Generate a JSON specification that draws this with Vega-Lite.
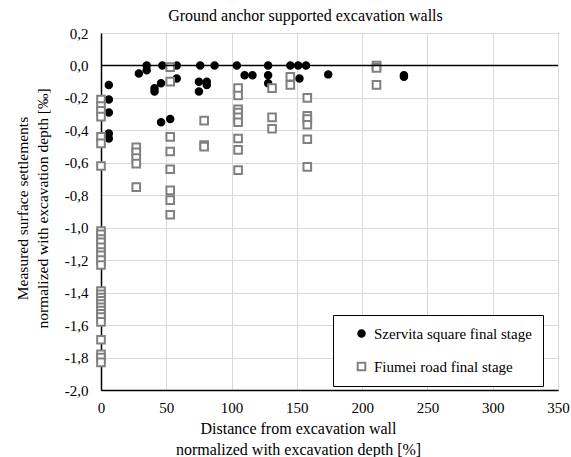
{
  "$schema": "https://vega.github.io/schema/vega-lite/v6.json",
  "width": 457,
  "height": 357,
  "autosize": {"type": "none"},
  "padding": {"left": 101, "top": 33, "right": 13, "bottom": 67},
  "config": {
    "locale": {"number": {"decimal": ",", "thousands": " ", "grouping": [3], "currency": ["", ""], "minus": "-"}},
    "font": "Liberation Serif",
    "axis": {"labelFont": "Liberation Serif", "titleFont": "Liberation Serif"},
    "legend": {"labelFont": "Liberation Serif", "titleFont": "Liberation Serif"},
    "view": {"stroke": "#333333", "strokeWidth": 1}
  },
  "title": {
    "text": "Ground anchor supported excavation walls",
    "font": "Liberation Serif",
    "fontSize": 16,
    "fontWeight": "normal",
    "color": "#000000",
    "anchor": "middle",
    "dx": -24,
    "offset": 2
  },
  "datasets": {
    "pts": [
      {"series": "Szervita square final stage", "x": 6, "y": -0.12},
      {"series": "Szervita square final stage", "x": 6, "y": -0.21},
      {"series": "Szervita square final stage", "x": 6, "y": -0.29},
      {"series": "Szervita square final stage", "x": 6, "y": -0.42},
      {"series": "Szervita square final stage", "x": 6, "y": -0.45},
      {"series": "Szervita square final stage", "x": 29, "y": -0.05},
      {"series": "Szervita square final stage", "x": 35, "y": 0.0},
      {"series": "Szervita square final stage", "x": 35, "y": -0.03},
      {"series": "Szervita square final stage", "x": 41, "y": -0.14},
      {"series": "Szervita square final stage", "x": 41, "y": -0.16},
      {"series": "Szervita square final stage", "x": 46, "y": -0.11},
      {"series": "Szervita square final stage", "x": 47, "y": 0.0},
      {"series": "Szervita square final stage", "x": 46, "y": -0.35},
      {"series": "Szervita square final stage", "x": 53, "y": -0.33},
      {"series": "Szervita square final stage", "x": 58, "y": 0.0},
      {"series": "Szervita square final stage", "x": 58, "y": -0.08},
      {"series": "Szervita square final stage", "x": 76, "y": 0.0},
      {"series": "Szervita square final stage", "x": 75, "y": -0.1},
      {"series": "Szervita square final stage", "x": 75, "y": -0.16},
      {"series": "Szervita square final stage", "x": 81, "y": -0.1},
      {"series": "Szervita square final stage", "x": 81, "y": -0.12},
      {"series": "Szervita square final stage", "x": 87, "y": 0.0},
      {"series": "Szervita square final stage", "x": 104, "y": 0.0},
      {"series": "Szervita square final stage", "x": 110, "y": -0.06},
      {"series": "Szervita square final stage", "x": 116, "y": -0.06},
      {"series": "Szervita square final stage", "x": 128, "y": 0.0},
      {"series": "Szervita square final stage", "x": 128, "y": -0.06},
      {"series": "Szervita square final stage", "x": 128, "y": -0.11},
      {"series": "Szervita square final stage", "x": 145, "y": 0.0},
      {"series": "Szervita square final stage", "x": 151, "y": 0.0},
      {"series": "Szervita square final stage", "x": 157, "y": 0.0},
      {"series": "Szervita square final stage", "x": 152, "y": -0.08},
      {"series": "Szervita square final stage", "x": 174, "y": -0.055},
      {"series": "Szervita square final stage", "x": 232, "y": -0.06},
      {"series": "Szervita square final stage", "x": 232, "y": -0.07},
      {"series": "Fiumei road final stage", "x": 0, "y": -0.21},
      {"series": "Fiumei road final stage", "x": 0, "y": -0.25},
      {"series": "Fiumei road final stage", "x": 0, "y": -0.28},
      {"series": "Fiumei road final stage", "x": 0, "y": -0.315},
      {"series": "Fiumei road final stage", "x": 0, "y": -0.44},
      {"series": "Fiumei road final stage", "x": 0, "y": -0.48},
      {"series": "Fiumei road final stage", "x": 0, "y": -0.62},
      {"series": "Fiumei road final stage", "x": 0, "y": -1.02},
      {"series": "Fiumei road final stage", "x": 0, "y": -1.04},
      {"series": "Fiumei road final stage", "x": 0, "y": -1.07},
      {"series": "Fiumei road final stage", "x": 0, "y": -1.09},
      {"series": "Fiumei road final stage", "x": 0, "y": -1.12},
      {"series": "Fiumei road final stage", "x": 0, "y": -1.15},
      {"series": "Fiumei road final stage", "x": 0, "y": -1.17},
      {"series": "Fiumei road final stage", "x": 0, "y": -1.2},
      {"series": "Fiumei road final stage", "x": 0, "y": -1.23},
      {"series": "Fiumei road final stage", "x": 0, "y": -1.39},
      {"series": "Fiumei road final stage", "x": 0, "y": -1.41},
      {"series": "Fiumei road final stage", "x": 0, "y": -1.43},
      {"series": "Fiumei road final stage", "x": 0, "y": -1.45},
      {"series": "Fiumei road final stage", "x": 0, "y": -1.47},
      {"series": "Fiumei road final stage", "x": 0, "y": -1.49},
      {"series": "Fiumei road final stage", "x": 0, "y": -1.51},
      {"series": "Fiumei road final stage", "x": 0, "y": -1.53},
      {"series": "Fiumei road final stage", "x": 0, "y": -1.55},
      {"series": "Fiumei road final stage", "x": 0, "y": -1.58},
      {"series": "Fiumei road final stage", "x": 0, "y": -1.69},
      {"series": "Fiumei road final stage", "x": 0, "y": -1.78},
      {"series": "Fiumei road final stage", "x": 0, "y": -1.8},
      {"series": "Fiumei road final stage", "x": 0, "y": -1.83},
      {"series": "Fiumei road final stage", "x": 27, "y": -0.505},
      {"series": "Fiumei road final stage", "x": 27, "y": -0.535},
      {"series": "Fiumei road final stage", "x": 27, "y": -0.57},
      {"series": "Fiumei road final stage", "x": 27, "y": -0.605},
      {"series": "Fiumei road final stage", "x": 27, "y": -0.75},
      {"series": "Fiumei road final stage", "x": 53, "y": -0.01},
      {"series": "Fiumei road final stage", "x": 53, "y": -0.1},
      {"series": "Fiumei road final stage", "x": 53, "y": -0.44},
      {"series": "Fiumei road final stage", "x": 53, "y": -0.53},
      {"series": "Fiumei road final stage", "x": 53, "y": -0.64},
      {"series": "Fiumei road final stage", "x": 53, "y": -0.77},
      {"series": "Fiumei road final stage", "x": 53, "y": -0.83},
      {"series": "Fiumei road final stage", "x": 53, "y": -0.92},
      {"series": "Fiumei road final stage", "x": 79, "y": -0.34},
      {"series": "Fiumei road final stage", "x": 79, "y": -0.49},
      {"series": "Fiumei road final stage", "x": 79, "y": -0.5},
      {"series": "Fiumei road final stage", "x": 105, "y": -0.14},
      {"series": "Fiumei road final stage", "x": 105, "y": -0.185},
      {"series": "Fiumei road final stage", "x": 105, "y": -0.27},
      {"series": "Fiumei road final stage", "x": 105, "y": -0.29},
      {"series": "Fiumei road final stage", "x": 105, "y": -0.32},
      {"series": "Fiumei road final stage", "x": 105, "y": -0.35},
      {"series": "Fiumei road final stage", "x": 105, "y": -0.45},
      {"series": "Fiumei road final stage", "x": 105, "y": -0.52},
      {"series": "Fiumei road final stage", "x": 105, "y": -0.645},
      {"series": "Fiumei road final stage", "x": 131, "y": -0.14},
      {"series": "Fiumei road final stage", "x": 131, "y": -0.32},
      {"series": "Fiumei road final stage", "x": 131, "y": -0.39},
      {"series": "Fiumei road final stage", "x": 145, "y": -0.07},
      {"series": "Fiumei road final stage", "x": 145, "y": -0.12},
      {"series": "Fiumei road final stage", "x": 158, "y": -0.2},
      {"series": "Fiumei road final stage", "x": 158, "y": -0.31},
      {"series": "Fiumei road final stage", "x": 158, "y": -0.33},
      {"series": "Fiumei road final stage", "x": 158, "y": -0.365},
      {"series": "Fiumei road final stage", "x": 158, "y": -0.455},
      {"series": "Fiumei road final stage", "x": 158, "y": -0.625},
      {"series": "Fiumei road final stage", "x": 211, "y": 0.0},
      {"series": "Fiumei road final stage", "x": 211, "y": -0.015},
      {"series": "Fiumei road final stage", "x": 211, "y": -0.12}
    ],
    "zero": [{"y": 0}]
  },
  "resolve": {"axis": {"y": "independent"}},
  "layer": [
    {
      "data": {"name": "pts"},
      "mark": {"type": "point", "strokeWidth": 2, "opacity": 1},
      "encoding": {
        "x": {
          "field": "x", "type": "quantitative",
          "scale": {"domain": [0, 350], "nice": false, "zero": true},
          "axis": {
            "values": [0, 50, 100, 150, 200, 250, 300, 350],
            "format": "d",
            "title": ["Distance from excavation  wall", "normalized with excavation depth [%]"],
            "titleFont": "Liberation Serif", "titleFontSize": 16, "titleFontWeight": "normal", "titleColor": "#000000",
            "titleLineHeight": 21, "titlePadding": 5, "titleX": 197, "titleAnchor": "start", "titleAlign": "center",
            "labelFont": "Liberation Serif", "labelFontSize": 15, "labelColor": "#000000", "labelPadding": 10,
            "labelFlush": false, "labelOverlap": false,
            "ticks": false, "domainColor": "#000000", "domainWidth": 1.5,
            "grid": true, "gridColor": "#d9d9d9", "gridWidth": 1
          }
        },
        "y": {
          "field": "y", "type": "quantitative",
          "scale": {"domain": [-2, 0.2], "nice": false, "zero": false},
          "axis": {
            "values": [-2, -1.8, -1.6, -1.4, -1.2, -1, -0.8, -0.6, -0.4, -0.2, 0, 0.2],
            "format": ".1f",
            "title": ["Measured surface settlements", "normalized with excavation depth  [‰]"],
            "titleFont": "Liberation Serif", "titleFontSize": 15.5, "titleFontWeight": "normal", "titleColor": "#000000",
            "titleLineHeight": 20, "titlePadding": 14, "titleY": 175, "titleAnchor": "start", "titleAlign": "center",
            "labelFont": "Liberation Serif", "labelFontSize": 15, "labelColor": "#000000", "labelPadding": 13,
            "labelFlush": false, "labelOverlap": false,
            "ticks": false, "domainColor": "#000000", "domainWidth": 1.5,
            "grid": true, "gridColor": "#d9d9d9", "gridWidth": 1
          }
        },
        "shape": {
          "field": "series", "type": "nominal",
          "scale": {"domain": ["Szervita square final stage", "Fiumei road final stage"], "range": ["circle", "square"]},
          "legend": {
            "title": null, "orient": "none", "legendX": 232, "legendY": 282,
            "padding": 11, "symbolOffset": 10, "rowPadding": 16, "labelOffset": 5,
            "labelExpr": "datum.label + '     '",
            "labelFont": "Liberation Serif", "labelFontSize": 15, "labelColor": "#000000",
            "strokeColor": "#000000", "fillColor": "#ffffff", "symbolStrokeWidth": 2
          }
        },
        "fill": {
          "field": "series", "type": "nominal",
          "scale": {"domain": ["Szervita square final stage", "Fiumei road final stage"], "range": ["#000000", "#ffffff"]}
        },
        "stroke": {
          "field": "series", "type": "nominal",
          "scale": {"domain": ["Szervita square final stage", "Fiumei road final stage"], "range": ["#000000", "#808080"]}
        },
        "size": {
          "field": "series", "type": "nominal",
          "scale": {"domain": ["Szervita square final stage", "Fiumei road final stage"], "range": [42, 58]}
        }
      }
    },
    {
      "data": {"name": "zero"},
      "mark": {"type": "rule", "color": "#000000", "strokeWidth": 1.6},
      "encoding": {
        "y": {"field": "y", "type": "quantitative", "axis": null, "scale": {"domain": [-2, 0.2], "nice": false, "zero": false}}
      }
    }
  ]
}
